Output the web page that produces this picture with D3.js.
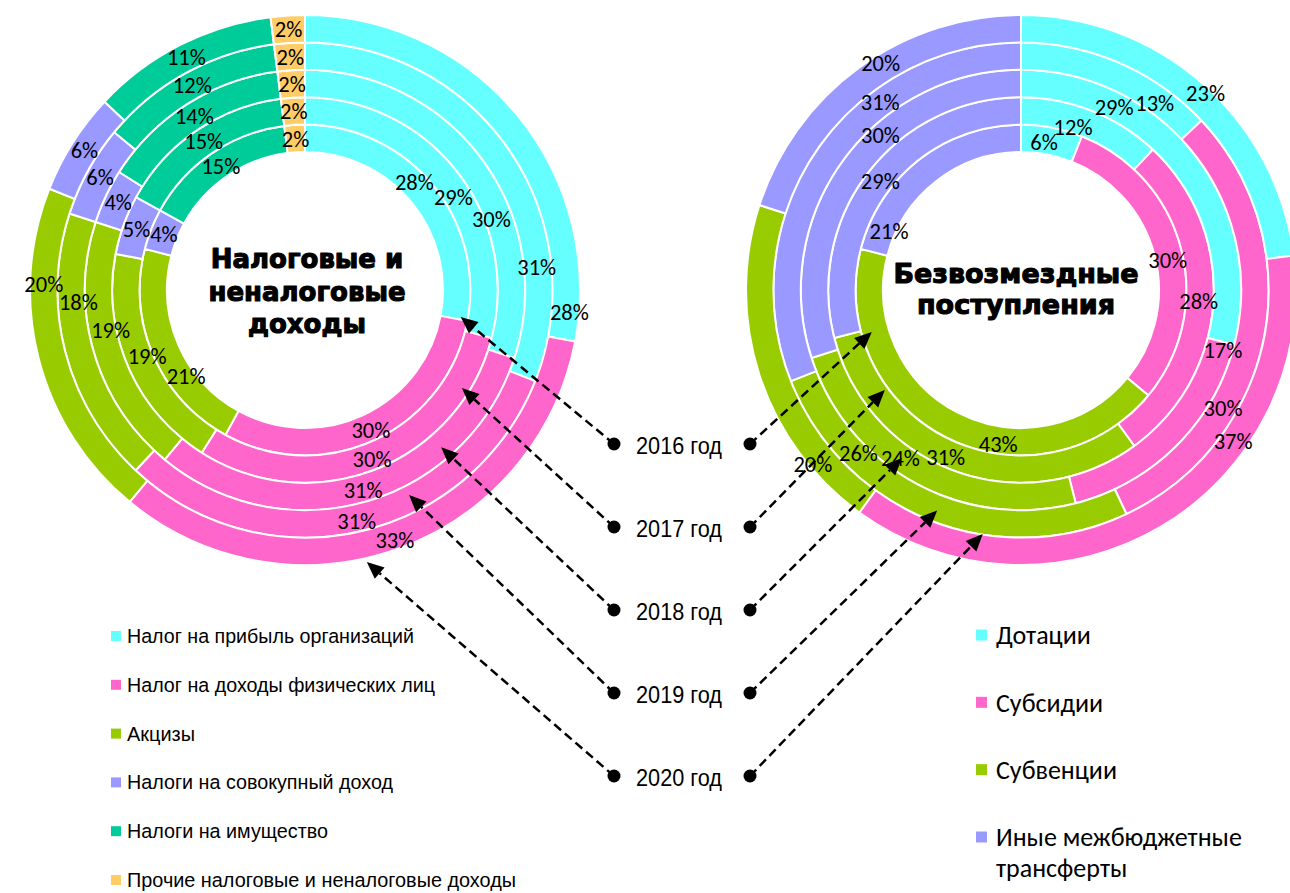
<!DOCTYPE html>
<html><head><meta charset="utf-8">
<script src="https://cdn.jsdelivr.net/npm/d3@7"></script>
<style>body{margin:0;background:#fff}svg{display:block}</style>
</head><body>
<svg id="c" width="1290" height="893"></svg>
<script>
// ---------------- DATA ----------------
const years = ["2016 год", "2017 год", "2018 год", "2019 год", "2020 год"];

// Left chart: структура налоговых и неналоговых доходов, % (ring 1 = 2016 ... ring 5 = 2020)
const leftCategories = [
  "Налог на прибыль организаций",
  "Налог на доходы физических лиц",
  "Акцизы",
  "Налоги на совокупный доход",
  "Налоги на имущество",
  "Прочие налоговые и неналоговые доходы"
];
const profitTax          = [28, 29, 30, 31, 28];
const personalIncomeTax  = [30, 30, 31, 31, 33];
const excises            = [21, 19, 19, 18, 20];
const aggregateIncomeTax = [4, 5, 4, 6, 6];
const propertyTax        = [15, 15, 14, 12, 11];
const otherRevenue       = [2, 2, 2, 2, 2];
const leftTitle = ["Налоговые и", "неналоговые", "доходы"];

// Right chart: структура безвозмездных поступлений, %
const rightCategories = ["Дотации", "Субсидии", "Субвенции", "Иные межбюджетные трансферты"];
const grants         = [6, 12, 29, 13, 23];
const subsidies      = [30, 28, 17, 30, 37];
const subventions    = [43, 31, 24, 26, 20];
const otherTransfers = [21, 29, 30, 31, 20];
const rightTitle = ["Безвозмездные", "поступления"];
const rightLegendLines = [["Дотации"], ["Субсидии"], ["Субвенции"], ["Иные межбюджетные", "трансферты"]];

// ---------------- STYLE / LAYOUT ----------------
const leftColors  = ["#66FFFF", "#FF66CC", "#99CC00", "#9999FF", "#00CC99", "#FFCC66"];
const rightColors = ["#66FFFF", "#FF66CC", "#99CC00", "#9999FF"];

// label placement along each segment (fraction of the arc) and radial nudge
const leftLabelT = [
  [0.45, 0.555, 0.64, 0.755, 0.94],
  [0.5, 0.5, 0.5, 0.5, 0.5],
  [0.335, 0.51, 0.566, 0.676, 0.72],
  [0.5, 0.5, 0.5, 0.5, 0.5],
  [0.5, 0.5, 0.5, 0.5, 0.5],
  [0.5, 0.5, 0.5, 0.5, 0.5]
];
const leftLabelDr = [
  [2, -4, -7, -1, 4],
  [3, 3, 2, 3, 4],
  [-5, -8, -8, -7, 0],
  [0, 0, 0, 0, 0],
  [-2, 1, 0, 0, 0],
  [0, 0, 0, 0, 0]
];
const rightLabelT = [
  [0.41, 0.41, 0.258, 0.76, 0.52],
  [0.527, 0.5, 0.034, 0.68, 0.32],
  [0.38, 0.54, 0.58, 0.75, 0.196],
  [0.13, 0.5, 0.61, 0.67, 0.56]
];
const rightLabelDr = [
  [-2, -8, -1, -4, 9],
  [-2, -1, 4, 0, -1],
  [4, 4, 0, -4, 10],
  [-7, -1, 3, 1, 6]
];
// arrow tips (polar: radius, degrees clockwise from 12 o'clock)
const leftTips  = [[158, 99.8], [185, 122], [208, 139.1], [230, 153.1], [279, 167.2]];
const rightTips = [[155, 254.3], [169, 233.7], [206, 215.3], [236, 200.8], [247, 188.9]];
// rendered text widths of the narrow-font texts (px)
const leftLegendWidths = [287, 308, 68, 266, 201, 389];
const yearWidth = 86;

const W = 1290, H = 893;
const L = {cx: 305, cy: 290}, R = {cx: 1021, cy: 290};
const hole = 138, ringW = 27.4;
const labelFont = "Carlito, Calibri, Lato, 'Open Sans', sans-serif";
const narrowFont = "'Liberation Sans Narrow', 'Arial Narrow', 'Liberation Sans', Arial, sans-serif";

const svg = d3.select("#c");
svg.append("rect").attr("width", W).attr("height", H).attr("fill", "#fff");

const ringR = d3.scaleLinear().domain([0, years.length]).range([hole, hole + ringW * years.length]);
const pie = d3.pie().sort(null).value(d => d.v).startAngle(0).endAngle(2 * Math.PI);

function polar(c, r, deg) {
  const a = deg * Math.PI / 180;
  return [c.cx + r * Math.sin(a), c.cy - r * Math.cos(a)];
}

function donut(center, series, colors, labelT, labelDr) {
  const g = svg.append("g").attr("transform", `translate(${center.cx},${center.cy})`);
  const lg = svg.append("g").attr("transform", `translate(${center.cx},${center.cy})`);
  years.forEach((y, yi) => {
    const r0 = ringR(yi), r1 = ringR(yi + 1);
    const arc = d3.arc().innerRadius(r0).outerRadius(r1);
    const arcs = pie(series.map((s, si) => ({v: s[yi], si})));
    g.selectAll(null).data(arcs).join("path")
      .attr("d", arc)
      .attr("fill", d => colors[d.data.si])
      .attr("stroke", "#fff").attr("stroke-width", 2).attr("stroke-linejoin", "miter");
    lg.selectAll(null).data(arcs).join("text")
      .attr("transform", d => {
        const t = labelT[d.data.si][yi];
        const a = d.startAngle + t * (d.endAngle - d.startAngle);
        const r = (r0 + r1) / 2 + labelDr[d.data.si][yi];
        return `translate(${r * Math.sin(a)},${-r * Math.cos(a)})`;
      })
      .attr("text-anchor", "middle").attr("dy", "0.36em")
      .attr("font-family", labelFont).attr("font-size", 22.5).attr("fill", "#000")
      .text(d => d.data.v + "%");
  });
}

donut(L, [profitTax, personalIncomeTax, excises, aggregateIncomeTax, propertyTax, otherRevenue], leftColors, leftLabelT, leftLabelDr);
donut(R, [grants, subsidies, subventions, otherTransfers], rightColors, rightLabelT, rightLabelDr);

// Titles
function title(lines, x, baselines, size) {
  svg.append("g").selectAll(null).data(lines).join("text")
    .attr("x", x).attr("y", (d, i) => baselines[i])
    .attr("text-anchor", "middle")
    .attr("font-family", "'DejaVu Sans', sans-serif").attr("font-weight", "bold")
    .attr("font-size", size).attr("fill", "#000")
    .attr("stroke", "#000").attr("stroke-width", 1.1).attr("stroke-linejoin", "round")
    .text(d => d);
}
title(leftTitle, 307, [268, 301, 333], 26);
title(rightTitle, 1016, [283, 314], 27);

// Year labels, dots and dashed arrows
const yearY = d3.scalePoint().domain(years).range([446, 778]);
const ag = svg.append("g");
years.forEach((y, i) => {
  const yy = yearY(y);
  const ld = [614, yy - 2], rd = [750, yy - 2];
  ag.append("text").attr("x", 636).attr("y", yy).attr("dy", "0.36em")
    .attr("font-family", narrowFont).attr("font-size", 23).attr("fill", "#000")
    .attr("textLength", yearWidth).attr("lengthAdjust", "spacingAndGlyphs").text(y);
  [[ld, polar(L, leftTips[i][0], leftTips[i][1])], [rd, polar(R, rightTips[i][0], rightTips[i][1])]].forEach(([p0, p1]) => {
    const dx = p1[0] - p0[0], dy = p1[1] - p0[1], len = Math.hypot(dx, dy);
    const ux = dx / len, uy = dy / len, hl = 17, hw = 7.5;
    const bx = p1[0] - ux * hl, by = p1[1] - uy * hl;
    ag.append("line").attr("x1", p0[0]).attr("y1", p0[1]).attr("x2", bx).attr("y2", by)
      .attr("stroke", "#000").attr("stroke-width", 2.5).attr("stroke-dasharray", "9,5");
    ag.append("path").attr("d", `M${p1[0]},${p1[1]}L${bx - uy * hw},${by + ux * hw}L${bx + uy * hw},${by - ux * hw}Z`)
      .attr("fill", "#000");
    ag.append("circle").attr("cx", p0[0]).attr("cy", p0[1]).attr("r", 6.5).attr("fill", "#000");
  });
});

// Left legend
const legL = d3.scalePoint().domain(leftCategories).range([636, 880]);
const lgL = svg.append("g");
leftCategories.forEach((c, i) => {
  lgL.append("rect").attr("x", 111).attr("y", legL(c) - 5).attr("width", 10).attr("height", 10).attr("fill", leftColors[i]);
  lgL.append("text").attr("x", 127).attr("y", legL(c)).attr("dy", "0.34em")
    .attr("font-family", narrowFont).attr("font-size", 20.5).attr("fill", "#000")
    .attr("textLength", leftLegendWidths[i]).attr("lengthAdjust", "spacingAndGlyphs").text(c);
});

// Right legend
const legR = d3.scalePoint().domain(rightCategories).range([635, 837]);
const lgR = svg.append("g");
rightCategories.forEach((c, i) => {
  lgR.append("rect").attr("x", 976).attr("y", legR(c) - 5.5).attr("width", 11).attr("height", 11).attr("fill", rightColors[i]);
  rightLegendLines[i].forEach((line, j) => {
    lgR.append("text").attr("x", 996).attr("y", legR(c) + j * 31).attr("dy", "0.36em")
      .attr("font-family", labelFont).attr("font-size", 26).attr("fill", "#000").text(line);
  });
});
</script>
</body></html>
